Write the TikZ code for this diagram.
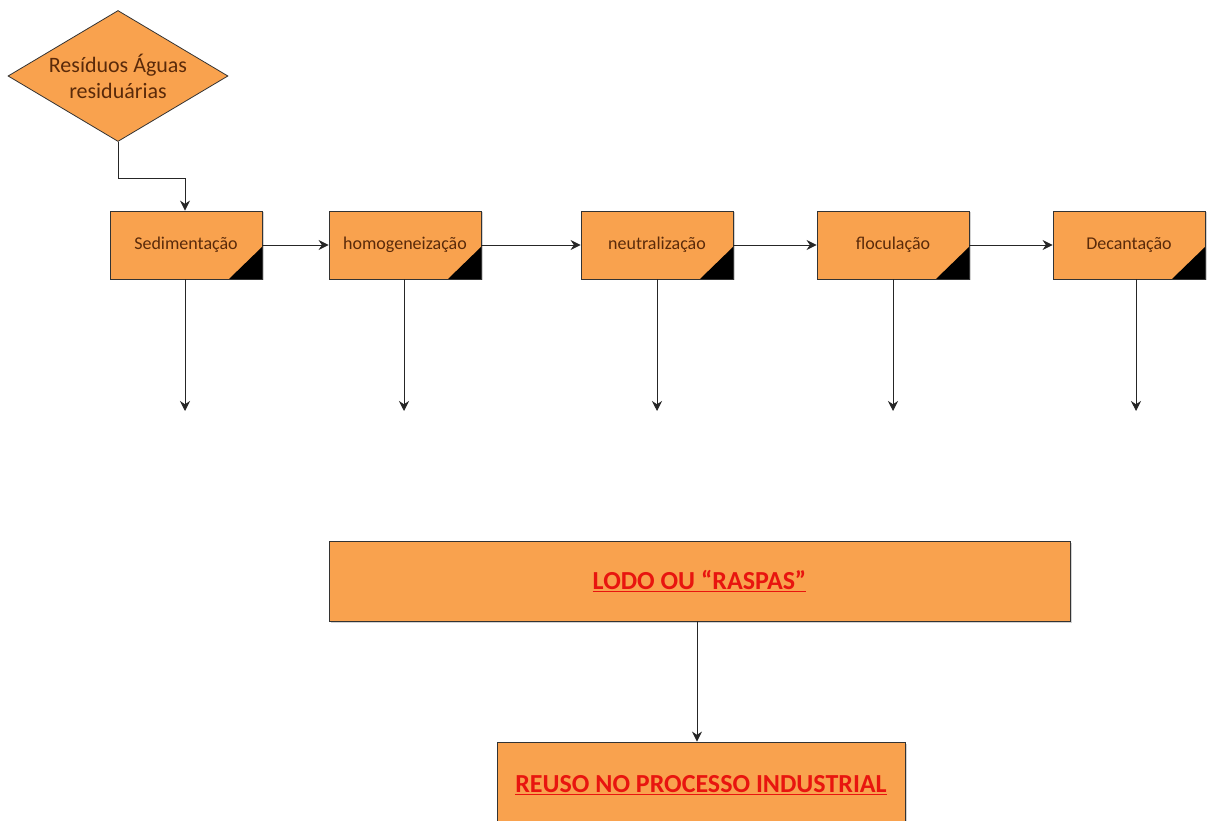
\documentclass[tikz,border=0pt]{standalone}
\usepackage{fontspec}
\setmainfont{Carlito}
\usetikzlibrary{arrows.meta,shapes.geometric,shadows}
\definecolor{orfill}{HTML}{F9A24E}
\definecolor{txtbrown}{HTML}{5A2A0A}
\definecolor{redtxt}{HTML}{E8150F}
\tikzset{
  proc/.style={draw=black!80, line width=0.8pt, fill=orfill, minimum width=152pt, minimum height=68pt,
    inner sep=0pt, text=txtbrown, font=\fontsize{18}{20}\selectfont,
    drop shadow={shadow xshift=1.5pt, shadow yshift=-1.5pt, opacity=0.35},
    path picture={\fill[black] (path picture bounding box.south east) -- ++(-33pt,0) -- ++(33pt,32pt) -- cycle;}},
  bigbox/.style={draw=black!80, line width=0.8pt, fill=orfill, inner sep=0pt,
    drop shadow={shadow xshift=1.5pt, shadow yshift=-1.5pt, opacity=0.35},
    font=\fontsize{26}{30}\selectfont\bfseries, text=redtxt},
  dec/.style={diamond, draw=black!80, line width=0.8pt, fill=orfill, aspect=1.68, minimum width=220pt,
    minimum height=131pt, inner sep=0pt, align=center, text=txtbrown, font=\fontsize{22}{26}\selectfont},
  arr/.style={draw=black!85, line width=0.9pt, -{Stealth[length=10pt,width=10pt]}}
}
\begin{document}
\begin{tikzpicture}[x=1pt,y=-1pt]
\useasboundingbox (0,0) rectangle (1227,821);
\fill[white] (0,0) rectangle (1227,821);
\node[dec] (d) at (118,76) {Resíduos Águas\\residuárias};
\node[proc] (b1) at (186,245) {Sedimentação};
\node[proc] (b2) at (405,245) {homogeneização};
\node[proc] (b3) at (657,245) {neutralização};
\node[proc] (b4) at (893,245) {floculação};
\node[proc] (b5) at (1129,245) {Decantação};
\node[bigbox, minimum width=741pt, minimum height=80pt] (lodo) at (699.5,581) {\underline{LODO OU “RASPAS”}};
\node[bigbox, minimum width=408pt, minimum height=90pt] (reuso) at (701,787) {\raisebox{6pt}{\underline{REUSO NO PROCESSO INDUSTRIAL}}};
\coordinate (c1) at (185,411);
\coordinate (c2) at (404,411);
\coordinate (c3) at (657,411);
\coordinate (c4) at (893,411);
\coordinate (c5) at (1136,411);
\draw[arr] (d.south) |- (185,178) -- (b1.north -| 185,0);
\draw[arr] (b1) -- (b2);
\draw[arr] (b2) -- (b3);
\draw[arr] (b3) -- (b4);
\draw[arr] (b4) -- (b5);
\draw[arr] (b1.south -| c1) -- (c1);
\draw[arr] (b2.south -| c2) -- (c2);
\draw[arr] (b3.south -| c3) -- (c3);
\draw[arr] (b4.south -| c4) -- (c4);
\draw[arr] (b5.south -| c5) -- (c5);
\draw[arr] (lodo.south -| 697,0) -- (reuso.north -| 697,0);
\end{tikzpicture}
\end{document}
